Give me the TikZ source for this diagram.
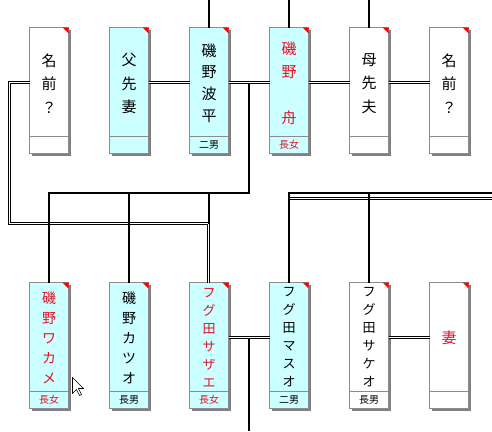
\documentclass[tikz,border=0pt]{standalone}
\usepackage{fontspec}
\newfontfamily\cjk{Noto Sans CJK JP}
\usetikzlibrary{calc}
\definecolor{cardcyan}{HTML}{CCFFFF}
\definecolor{cardborder}{HTML}{8C8C8C}
\definecolor{cardshadow}{HTML}{808080}
\definecolor{namered}{RGB}{226,20,40}
\tikzset{
  card/.style={rectangle, draw=cardborder, line width=1pt, minimum width=39pt, minimum height=126pt, inner sep=0pt, outer sep=0pt},
  divider/.style={draw=cardborder, line width=1pt},
  nametext/.style={align=center, inner sep=0pt, font=\cjk\fontsize{15}{23.5}\selectfont},
  nametextb/.style={align=center, inner sep=0pt, font=\cjk\fontsize{15}{21.7}\selectfont},
  nametextc/.style={align=center, inner sep=0pt, font=\cjk\fontsize{14}{20}\selectfont},
  nametextd/.style={align=center, inner sep=0pt, font=\cjk\fontsize{13}{18}\selectfont},
  labeltext/.style={inner sep=0pt, font=\cjk\fontsize{10}{12}\selectfont},
  kin/.style={line width=2pt, draw=black},
  wed/.style={double, line width=1pt, double distance=1pt, draw=black},
}
\newcommand\famcard[4]{%
  \fill[cardshadow] (#2+2.5,#3+2.5) rectangle ++(39,126);
  \node[card,fill=#4,anchor=north west] (#1) at (#2,#3) {};
  \draw[divider] ($(#1.south west)+(0,-17)$) -- ($(#1.south east)+(0,-17)$);
  \fill[red] ($(#1.north east)+(-6,0)$) -- (#1.north east) -- ($(#1.north east)+(0,6)$) -- cycle;
}
\begin{document}
\begin{tikzpicture}[x=1pt,y=-1pt]
\useasboundingbox (0,0) rectangle (492,431);
\fill[white] (0,0) rectangle (492,431);
% cards top row
\famcard{b1}{29.5}{27.5}{white}
\famcard{b2}{109.5}{27.5}{cardcyan}
\famcard{b3}{189.5}{27.5}{cardcyan}
\famcard{b4}{269.5}{27.5}{cardcyan}
\famcard{b5}{349.5}{27.5}{white}
\famcard{b6}{429.5}{27.5}{white}
% cards bottom row
\famcard{c1}{29.5}{282.5}{cardcyan}
\famcard{c2}{109.5}{282.5}{cardcyan}
\famcard{c3}{189.5}{282.5}{cardcyan}
\famcard{c4}{269.5}{282.5}{cardcyan}
\famcard{c5}{349.5}{282.5}{white}
\famcard{c6}{429.5}{282.5}{white}
% names top
\node[nametext] (b1n) at ($(b1.north)+(0,56)$) {名\\前\\？};
\node[nametext] (b2n) at ($(b2.north)+(0,56)$) {父\\先\\妻};
\node[nametextb] (b3n) at ($(b3.north)+(0,55.5)$) {磯\\野\\波\\平};
\node[nametextb, text=namered, font=\cjk\fontsize{15}{23}\selectfont] (b4n) at ($(b4.north)+(0,55.5)$) {磯\\野\\　\\舟};
\node[nametext] (b5n) at ($(b5.north)+(0,56)$) {母\\先\\夫};
\node[nametext] (b6n) at ($(b6.north)+(0,56)$) {名\\前\\？};
\node[labeltext] (b3l) at ($(b3.south)+(0,-8.5)$) {二男};
\node[labeltext, text=namered] (b4l) at ($(b4.south)+(0,-8.5)$) {長女};
% names bottom
\node[nametextc, text=namered] (c1n) at ($(c1.north)+(0,55.5)$) {磯\\野\\ワ\\カ\\メ};
\node[nametextc] (c2n) at ($(c2.north)+(0,55.5)$) {磯\\野\\カ\\ツ\\オ};
\node[nametextd, text=namered] (c3n) at ($(c3.north)+(0,55)$) {フ\\グ\\田\\サ\\ザ\\エ};
\node[nametextd] (c4n) at ($(c4.north)+(0,55)$) {フ\\グ\\田\\マ\\ス\\オ};
\node[nametextd] (c5n) at ($(c5.north)+(0,55)$) {フ\\グ\\田\\サ\\ケ\\オ};
\node[nametext, text=namered] (c6n) at ($(c6.north)+(0,55.5)$) {妻};
\node[labeltext, text=namered] (c1l) at ($(c1.south)+(0,-8.5)$) {長女};
\node[labeltext] (c2l) at ($(c2.south)+(0,-8.5)$) {長男};
\node[labeltext, text=namered] (c3l) at ($(c3.south)+(0,-8.5)$) {長女};
\node[labeltext] (c4l) at ($(c4.south)+(0,-8.5)$) {二男};
\node[labeltext] (c5l) at ($(c5.south)+(0,-8.5)$) {長男};
% helper coordinates
\coordinate (topedge) at (0,0);
\coordinate (botedge) at (0,431);
\coordinate (rightedge) at (492,0);
\coordinate (wedtop) at (0,82.5);
\coordinate (wedbot) at (0,337.5);
\coordinate (sib1) at (0,193);
\coordinate (sib2) at (0,198.5);
\coordinate (lc1) at (9.5,82.5);
\coordinate (lc2) at (9.5,223.5);
\coordinate (c3in) at ($(c3.north)+(-0.5,0)$);
% top verticals
\draw[kin] (b3.north) -- (b3.north |- topedge);
\draw[kin] (b4.north) -- (b4.north |- topedge);
\draw[kin] (b5.north) -- (b5.north |- topedge);
% long double line from b1
\draw[wed] (b1.west |- wedtop) -- (lc1) -- (lc2) -- (c3in |- lc2) -- (c3in);
% marriages top
\draw[wed] (b2.east |- wedtop) -- (b3.west |- wedtop);
\draw[wed] (b3.east |- wedtop) -- (b4.west |- wedtop);
\draw[wed] (b4.east |- wedtop) -- (b5.west |- wedtop);
\draw[wed] (b5.east |- wedtop) -- (b6.west |- wedtop);
\coordinate (m34) at ($(b3.east |- wedtop)!0.5!(b4.west |- wedtop)$);
\draw[kin] ($(m34)+(0,1.5)$) -- (m34 |- sib1) -- (c1.north |- sib1) -- (c1.north);
\draw[kin] (c2.north |- sib1) -- (c2.north);
\draw[kin] (c3.north |- sib1) -- (c3.north |- lc2);
% bottom marriages
\draw[wed] (c3.east |- wedbot) -- (c4.west |- wedbot);
\draw[wed] (c5.east |- wedbot) -- (c6.west |- wedbot);
\coordinate (m34b) at ($(c3.east |- wedbot)!0.5!(c4.west |- wedbot)$);
\draw[kin] ($(m34b)+(0,1.5)$) -- (m34b |- botedge);
% right family lines
\draw[wed] ($(c4.north |- sib2)+(1,0)$) -- (rightedge |- sib2);
\draw[kin] (c4.north) -- (c4.north |- sib1) -- (rightedge |- sib1);
\draw[kin] (c5.north) -- (c5.north |- sib1);
% mouse cursor
\draw[black, fill=white, line width=0.6pt, line join=miter] (72.5,377.5) -- ++(0,16) -- ++(4,-4) -- ++(3,6) -- ++(2,-1) -- ++(-3,-6) -- ++(5,0) -- cycle;
\end{tikzpicture}
\end{document}
